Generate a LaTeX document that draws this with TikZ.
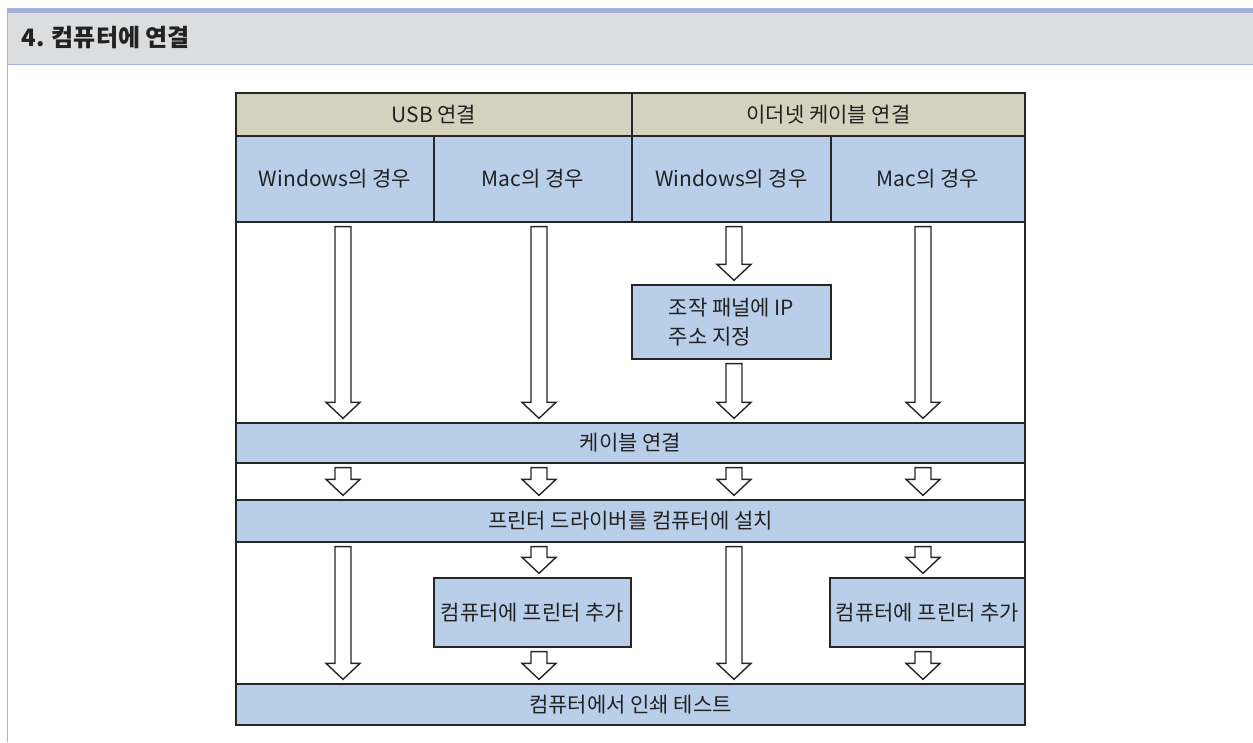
\documentclass[tikz,border=0pt]{standalone}
\usepackage{fontspec}
\setmainfont{Noto Sans CJK KR}
\usetikzlibrary{calc}
\definecolor{tanc}{RGB}{214,208,190}
\definecolor{bluec}{RGB}{185,206,232}
\definecolor{hdrgray}{RGB}{220,221,223}
\definecolor{hdrblue}{RGB}{164,178,220}
\definecolor{txt}{RGB}{34,34,34}
\newcommand\blkarrow[3]{%
  \draw[blockarrow] let \p1=(#1), \p2=(#2), \p3=(#3) in
  (\x1-8pt,\y2-4pt) -- (\x1+8pt,\y2-4pt) -- (\x1+8pt,\y3+20pt) -- (\x1+17pt,\y3+20pt)
  -- (\x1,\y3+4pt) -- (\x1-17pt,\y3+20pt) -- (\x1-8pt,\y3+20pt) -- cycle;}
\begin{document}
\begin{tikzpicture}[x=1pt,y=-1pt,
  box/.style={draw=black!85, line width=1.3pt, inner sep=0pt, text=txt,
    font=\fontsize{21}{29}\selectfont},
  tanbox/.style={box, fill=tanc},
  bluebox/.style={box, fill=bluec},
  blockarrow/.style={draw=black!85, line width=1.4pt, fill=white, line join=miter}]
\useasboundingbox (0,0) rectangle (1253,742);
% header
\fill[hdrgray] (7,13) rectangle (1253,64);
\fill[hdrblue] (7,8) rectangle (1253,13);
\draw[hdrblue, line width=1pt] (7,64) -- (1253,64);
\draw[hdrblue, line width=1.2pt] (7.5,8) -- (7.5,742);
\node[anchor=west, font=\fontsize{24}{28}\selectfont\bfseries, text=txt] (title) at (18,38) {4. 컴퓨터에 연결};
% frame
\node[box, minimum width=789pt, minimum height=632pt] (frame) at (630.5,409) {};
% column coordinates
\coordinate (c1) at (343,0);
\coordinate (c2) at (539,0);
\coordinate (c3) at (734,0);
\coordinate (c4) at (923,0);
% top rows
\node[tanbox, minimum width=396pt, minimum height=43pt] (usb) at (434,114.5) {USB 연결};
\node[tanbox, minimum width=393pt, minimum height=43pt] (eth) at (828.5,114.5) {이더넷 케이블 연결};
\node[bluebox, minimum width=198pt, minimum height=86pt] (w1) at (335,179) {Windows의 경우};
\node[bluebox, minimum width=198pt, minimum height=86pt] (m1) at (533,179) {Mac의 경우};
\node[bluebox, minimum width=199pt, minimum height=86pt] (w2) at (731.5,179) {Windows의 경우};
\node[bluebox, minimum width=194pt, minimum height=86pt] (m2) at (928,179) {Mac의 경우};
% ip box
\node[bluebox, minimum width=199pt, minimum height=74pt, align=left] (ip) at (731.5,322) {조작 패널에 IP\\주소 지정};
% bands
\node[bluebox, minimum width=789pt, minimum height=40pt] (cable) at (630.5,443) {케이블 연결};
\node[bluebox, minimum width=789pt, minimum height=42pt] (driver) at (630.5,521) {프린터 드라이버를 컴퓨터에 설치};
\node[bluebox, minimum width=197pt, minimum height=69pt] (add1) at (532.5,612.5) {컴퓨터에 프린터 추가};
\node[bluebox, minimum width=195pt, minimum height=69pt] (add2) at (927.5,612.5) {컴퓨터에 프린터 추가};
\node[bluebox, minimum width=789pt, minimum height=41pt] (test) at (630.5,704.5) {컴퓨터에서 인쇄 테스트};
% arrows section 1
\blkarrow{c1}{w1.south}{cable.north}
\blkarrow{c2}{m1.south}{cable.north}
\blkarrow{c3}{w2.south}{ip.north}
\blkarrow{c3}{ip.south}{cable.north}
\blkarrow{c4}{m2.south}{cable.north}
% section 2
\blkarrow{c1}{cable.south}{driver.north}
\blkarrow{c2}{cable.south}{driver.north}
\blkarrow{c3}{cable.south}{driver.north}
\blkarrow{c4}{cable.south}{driver.north}
% section 3
\blkarrow{c1}{driver.south}{test.north}
\blkarrow{c2}{driver.south}{add1.north}
\blkarrow{c2}{add1.south}{test.north}
\blkarrow{c3}{driver.south}{test.north}
\blkarrow{c4}{driver.south}{add2.north}
\blkarrow{c4}{add2.south}{test.north}
\end{tikzpicture}
\end{document}
